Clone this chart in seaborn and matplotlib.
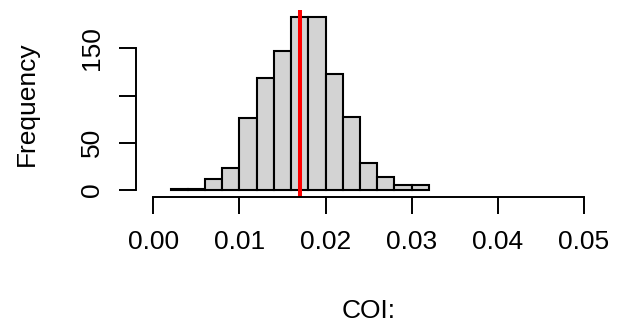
import matplotlib
matplotlib.use("Agg")
import matplotlib.pyplot as plt
import pandas as pd
import seaborn as sns

# Histogram of COI values (counts per bin of width 0.002)
bin_edges = [0.002, 0.004, 0.006, 0.008, 0.010, 0.012, 0.014, 0.016,
             0.018, 0.020, 0.022, 0.024, 0.026, 0.028, 0.030, 0.032]
counts = [1, 1, 12, 23, 76, 119, 147, 183, 183, 123, 77, 29, 14, 5, 5]
mean_coi = 0.017

x_ticks = [0.00, 0.01, 0.02, 0.03, 0.04, 0.05]
x_tick_labels = ["0.00", "0.01", "0.02", "0.03", "0.04", "0.05"]
y_ticks = [0, 50, 100, 150]
y_tick_labels = ["0", "50", "", "150"]

sns.set_style("white")
plt.rcParams["font.family"] = ["Liberation Sans", "DejaVu Sans"]
plt.rcParams["text.color"] = "black"
plt.rcParams["axes.labelcolor"] = "black"

W, H = 618, 325
fig = plt.figure(figsize=(W / 100, H / 100), dpi=100)
left, right, top, bottom = 136, 602, 10.3, 196.9
ax = fig.add_axes([left / W, (H - bottom) / H, (right - left) / W, (bottom - top) / H])

centers = [(a + b) / 2 for a, b in zip(bin_edges[:-1], bin_edges[1:])]
df = pd.DataFrame({"coi": centers, "n": counts})
sns.histplot(data=df, x="coi", weights="n", bins=bin_edges, color="#D3D3D3",
             edgecolor="black", linewidth=1.5, alpha=1, ax=ax)

ax.axvline(mean_coi, color="red", linewidth=2.9)

ax.set_xlim(-0.00201, 0.0521)
ax.set_ylim(-7.32, 190.32)

for side in ("top", "right"):
    ax.spines[side].set_visible(False)
ax.spines["left"].set_bounds(0, 150)
ax.spines["bottom"].set_bounds(0, 0.05)
for side in ("left", "bottom"):
    ax.spines[side].set_linewidth(1.4)
    ax.spines[side].set_color("black")

ax.set_xticks(x_ticks)
ax.set_xticklabels(x_tick_labels)
ax.set_yticks(y_ticks)
ax.set_yticklabels(y_tick_labels, rotation=90, va="center")
ax.tick_params(axis="both", direction="out", length=12, width=1.4,
               colors="black", labelsize=19, bottom=True, left=True)
ax.tick_params(axis="x", pad=12)
ax.tick_params(axis="y", pad=11)

ax.set_xlabel("COI:", fontsize=19)
ax.xaxis.label.set_va("baseline")
ax.xaxis.set_label_coords(0.5, -(318.5 - bottom) / (bottom - top))
ax.set_ylabel("Frequency", fontsize=19, rotation=90, rotation_mode="anchor",
              ha="center", va="baseline")
ax.yaxis.set_label_coords((33.5 - left) / (right - left), 0.5)

fig.savefig("out.png", dpi=100)
